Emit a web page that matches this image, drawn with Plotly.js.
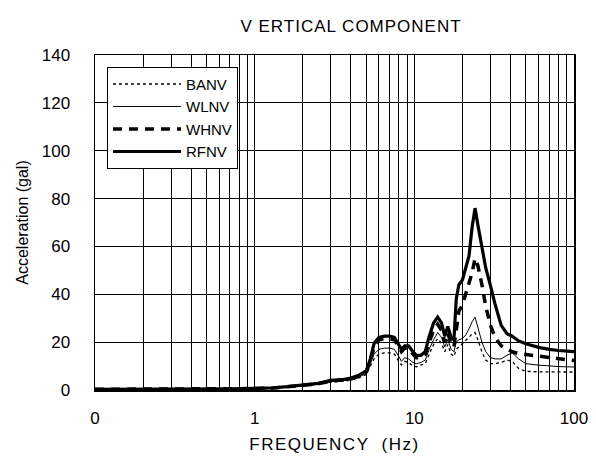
<!DOCTYPE html>
<html>
<head>
<meta charset="utf-8">
<script src="https://cdn.plot.ly/plotly-3.0.1.min.js"></script>
<style>
  html, body { margin: 0; padding: 0; background: #fff; }
  #chart { width: 596px; height: 457px; }
  .gtitle { letter-spacing: 1px; }
  .xtitle { letter-spacing: 1.5px; }
</style>
</head>
<body>
<div id="chart"></div>
<script>
// Frequency grid (Hz) shared by all four records
const freq = [0.1, 0.2, 0.3, 0.5, 0.7, 1.0, 1.3, 1.6, 2.0, 2.5, 3.0, 3.5, 4.0, 4.5, 5.0,
  5.3, 5.6, 6.0, 6.5, 7.0, 7.5, 8.0, 8.3, 8.7, 9.2, 9.8, 10.3, 11.0, 11.7, 12.4, 13.2,
  14.0, 14.8, 15.5, 16.2, 17.0, 17.7, 18.3, 19.0, 20.0, 21.0, 22.0, 23.0, 24.0, 25.0,
  26.5, 28.0, 30.0, 32.0, 35.0, 38.0, 41.0, 45.0, 50.0, 60.0, 70.0, 80.0, 100.0];

// Response acceleration (gal) for each record
const banv = [0.2, 0.2, 0.3, 0.3, 0.4, 0.5, 0.7, 1.1, 1.8, 2.3, 3.3, 3.6, 4.1, 5.1, 6.5,
  10.0, 13.0, 15.0, 15.5, 15.5, 15.0, 12.0, 10.5, 12.0, 11.5, 10.0, 9.7, 10.5, 11.0, 15.0, 19.0,
  21.5, 19.5, 16.0, 19.0, 15.0, 14.0, 17.0, 18.0, 19.5, 20.5, 22.0, 23.5, 24.0, 21.0,
  16.0, 12.5, 11.0, 11.0, 11.5, 12.5, 12.0, 9.0, 7.8, 7.6, 7.5, 7.5, 7.5];
const wlnv = [0.2, 0.2, 0.3, 0.3, 0.4, 0.6, 0.8, 1.2, 1.9, 2.4, 3.4, 3.8, 4.3, 5.4, 7.0,
  11.0, 15.0, 17.0, 17.5, 17.5, 17.0, 14.0, 12.0, 13.5, 13.0, 11.5, 11.0, 11.5, 12.5, 17.0, 21.0,
  24.0, 22.0, 18.0, 21.0, 17.0, 16.0, 20.0, 21.0, 21.5, 23.0, 25.5, 28.5, 30.5, 26.0,
  20.0, 16.0, 13.5, 13.0, 13.0, 14.5, 15.5, 13.0, 11.0, 10.4, 10.0, 9.8, 9.6];
const whnv = [0.3, 0.3, 0.3, 0.4, 0.5, 0.6, 0.8, 1.3, 2.0, 2.6, 3.7, 4.0, 4.6, 5.8, 7.5,
  12.0, 18.0, 21.0, 21.5, 21.5, 21.0, 18.0, 16.0, 17.5, 17.5, 15.0, 13.5, 13.5, 15.0, 20.0, 25.0,
  27.5, 25.0, 20.0, 24.0, 19.0, 18.0, 25.0, 33.0, 35.5, 40.0, 44.0, 49.0, 55.0, 52.0,
  44.0, 35.0, 27.0, 22.0, 18.5, 17.0, 16.0, 15.2, 14.8, 13.9, 13.4, 12.8, 12.3];
const rfnv = [0.3, 0.3, 0.3, 0.4, 0.5, 0.7, 0.9, 1.4, 2.2, 2.8, 4.0, 4.3, 5.0, 6.2, 8.0,
  13.0, 19.5, 22.0, 22.5, 22.5, 22.0, 19.0, 17.0, 18.5, 18.5, 16.0, 14.5, 14.5, 16.0, 22.5, 28.0,
  30.5, 28.0, 22.5, 26.5, 22.0, 21.0, 38.0, 44.0, 46.0, 51.0, 56.0, 68.0, 76.0, 69.0,
  60.0, 51.0, 43.5, 36.0, 27.0, 23.5, 22.5, 20.5, 19.3, 17.8, 17.0, 16.5, 16.0];

const seriesNames = ['BANV', 'WLNV', 'WHNV', 'RFNV'];
const seriesValues = [banv, wlnv, whnv, rfnv];

// Decade labels on the log frequency axis (the 0.1 decade is printed as "0")
const decadeVals = [0.1, 1, 10, 100];
const decadeText = ['0', '1', '10', '100'];
const yTicks = [0, 20, 40, 60, 80, 100, 120, 140];

// Line styles for each record
const styles = [
  { color: '#000', width: 1.3, dash: '3px,3px' },
  { color: '#000', width: 1, dash: 'solid' },
  { color: '#000', width: 3.5, dash: '9px,7px' },
  { color: '#000', width: 3.2, dash: 'solid' }
];

const traces = seriesNames.map((name, i) => ({
  type: 'scatter',
  mode: 'lines',
  name: name,
  x: freq,
  y: seriesValues[i],
  line: styles[i]
}));

// Every 1..9 multiple in each decade gets a grid line; only decades are labelled
const gridVals = [];
const gridText = [];
[0.1, 1, 10].forEach(d => {
  for (let k = 1; k <= 9; k++) {
    gridVals.push(d * k);
    const idx = decadeVals.indexOf(d * k);
    gridText.push(k === 1 ? decadeText[idx] : '');
  }
});
gridVals.push(100);
gridText.push(decadeText[3]);

const font = { family: '"Liberation Sans", Arial, sans-serif', color: '#000' };

const layout = {
  width: 596,
  height: 457,
  margin: { l: 95, r: 22, t: 55, b: 67 },
  paper_bgcolor: '#fff',
  plot_bgcolor: '#fff',
  font: Object.assign({ size: 17 }, font),
  showlegend: true,
  title: {
    text: 'V ERTICAL COMPONENT',
    font: Object.assign({ size: 17 }, font),
    xref: 'container', x: 0.589, xanchor: 'center',
    yref: 'container', y: 0.943, yanchor: 'middle'
  },
  xaxis: {
    type: 'log',
    range: [-1, 2],
    tickmode: 'array',
    tickvals: gridVals,
    ticktext: gridText,
    ticks: '',
    ticklabelstandoff: 12,
    tickfont: Object.assign({ size: 17 }, font),
    showgrid: true,
    gridcolor: '#000',
    gridwidth: 1,
    zeroline: false,
    showline: true,
    mirror: true,
    linecolor: '#000',
    linewidth: 1.5,
    title: { text: 'FREQUENCY  (Hz)', font: Object.assign({ size: 17 }, font), standoff: 11 }
  },
  yaxis: {
    range: [0, 140],
    tickmode: 'array',
    tickvals: yTicks,
    ticks: '',
    ticklabelstandoff: 20,
    tickfont: Object.assign({ size: 17 }, font),
    showgrid: true,
    gridcolor: '#000',
    gridwidth: 1,
    zeroline: false,
    showline: true,
    mirror: true,
    linecolor: '#000',
    linewidth: 1.5,
    title: { text: 'Acceleration (gal)', font: Object.assign({ size: 16 }, font), standoff: 9 }
  },
  legend: {
    x: 0.025, xanchor: 'left',
    y: 0.965, yanchor: 'top',
    bgcolor: '#fff',
    bordercolor: '#000',
    borderwidth: 1,
    itemwidth: 68,
    font: Object.assign({ size: 15 }, font),
    tracegroupgap: 0
  }
};

Plotly.newPlot('chart', traces, layout, { displayModeBar: false, staticPlot: true });
</script>
</body>
</html>
